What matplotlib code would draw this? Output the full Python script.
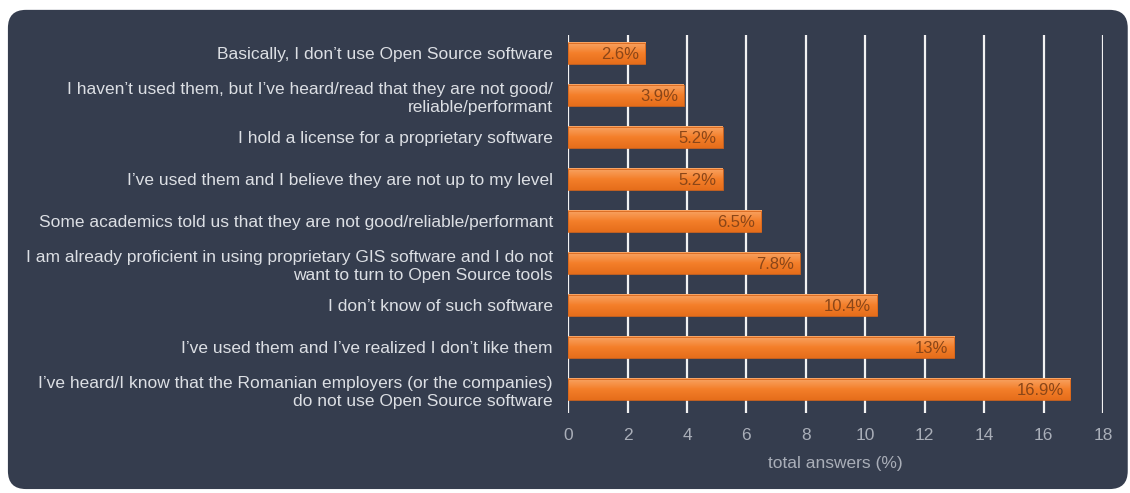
import matplotlib.pyplot as plt
import numpy as np
from matplotlib.patches import FancyBboxPatch
from matplotlib.colors import LinearSegmentedColormap

plt.rcParams['font.family'] = ['Liberation Sans', 'DejaVu Sans']

reasons = [
    "Basically, I don’t use Open Source software",
    "I haven’t used them, but I’ve heard/read that they are not good/\nreliable/performant",
    "I hold a license for a proprietary software",
    "I’ve used them and I believe they are not up to my level",
    "Some academics told us that they are not good/reliable/performant",
    "I am already proficient in using proprietary GIS software and I do not\nwant to turn to Open Source tools",
    "I don’t know of such software",
    "I’ve used them and I’ve realized I don’t like them",
    "I’ve heard/I know that the Romanian employers (or the companies)\ndo not use Open Source software",
]
shares = [2.6, 3.9, 5.2, 5.2, 6.5, 7.8, 10.4, 13, 16.9]
share_labels = ["2.6%", "3.9%", "5.2%", "5.2%", "6.5%", "7.8%", "10.4%", "13%", "16.9%"]

bg = '#353d4e'
fig = plt.figure(figsize=(11.3, 4.93), dpi=100)
fig.patch.set_facecolor('white')
panel = FancyBboxPatch((0.007, 0.008), 0.991, 0.972, boxstyle='round,pad=0,rounding_size=0.016',
                       transform=fig.transFigure, facecolor=bg, edgecolor='none',
                       mutation_aspect=1130 / 493, zorder=-10)
fig.patches.append(panel)

ax = fig.add_axes([0.5027, 0.162, 0.4735, 0.767])
ax.set_facecolor('none')

y = np.arange(len(reasons))

for gx in range(0, 19, 2):
    ax.axvline(gx, color='#f2f2f2', lw=1.6, zorder=1)

# orange bars with a light-to-dark vertical gradient
grad = LinearSegmentedColormap.from_list('bar', ['#f8a464', '#f47f2a', '#e66e1b'])
h = 0.5
for yi, v, lab in zip(y, shares, share_labels):
    ax.imshow(np.linspace(0, 1, 20).reshape(-1, 1), cmap=grad, aspect='auto',
              extent=(0, v, yi + h / 2, yi - h / 2), zorder=2)
    ax.add_patch(plt.Rectangle((0, yi - h / 2), v, h, fill=False,
                               edgecolor='#d9661a', lw=0.6, zorder=3))
    ax.text(v - 0.2, yi + 0.03, lab, ha='right', va='center', fontsize=12,
            color='#8a4618', zorder=4)

ax.set_xlim(0, 18)
ax.set_ylim(len(reasons) - 0.43, -0.43)
ax.set_xticks(range(0, 19, 2))
ax.set_yticks(y)
ax.set_yticklabels(reasons, fontsize=12.5, color='#dcdfe4', linespacing=1.25)
ax.tick_params(axis='y', length=0, pad=11)
ax.tick_params(axis='x', length=0, pad=11, labelsize=12.5, labelcolor='#a9aeb8')
for s in ax.spines.values():
    s.set_visible(False)
ax.set_xlabel('total answers (%)', fontsize=12.5, color='#a9aeb8', labelpad=9)

fig.savefig('out.png', dpi=100, facecolor=fig.get_facecolor())
